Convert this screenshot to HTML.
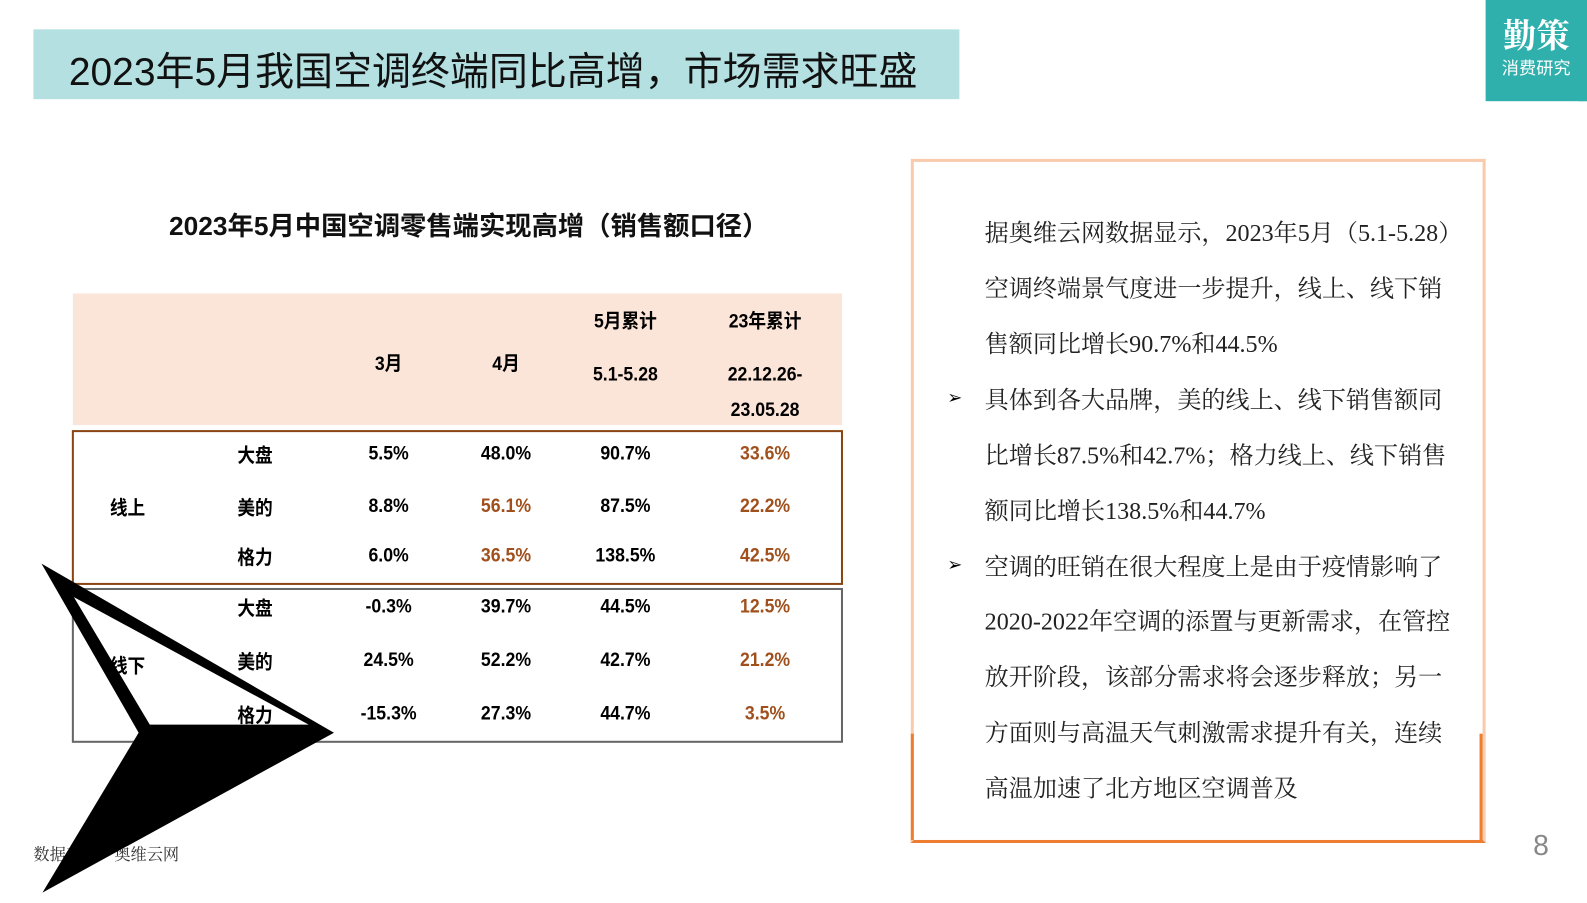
<!DOCTYPE html>
<html><head><meta charset="utf-8"><style>
body{margin:0;width:1587px;height:892px;position:relative;background:#fff;overflow:hidden;font-family:"Liberation Sans","Noto Sans CJK SC",sans-serif;}
#wrap{position:absolute;left:0;top:0;width:1587px;height:892px;transform:scale(1.012);transform-origin:0 0;}
.a{position:absolute;}
.c{position:absolute;transform:translate(-50%,-50%) scaleX(0.92);white-space:nowrap;font-size:19px;font-weight:bold;color:#000;}
.o{color:#a0501c;}
.t{position:absolute;left:973px;font-family:"Liberation Serif","Noto Serif CJK SC",serif;font-size:23.8px;color:#222;white-space:nowrap;transform:translateY(-50%);}
.b{position:absolute;left:936px;font-size:18px;transform:translateY(-50%);}
</style></head><body><div id="wrap">
<div class="a" style="left:33px;top:29px;width:915px;height:69px;background:#b4e0e2;"></div>
<div class="a" style="left:68px;top:40px;font-size:38.5px;color:#111;white-space:nowrap;">2023年5月我国空调终端同比高增，市场需求旺盛</div>
<div class="a" style="left:1468px;top:0;width:100px;height:100px;background:#2fb0ad;color:#fff;text-align:center;">
<div style="font-size:33px;font-weight:bold;margin-top:14px;font-family:'Noto Serif CJK SC',serif;line-height:40px;">勤策</div>
<div style="font-size:17px;line-height:22px;margin-top:3px;">消费研究</div></div>
<div class="a" style="left:1560px;top:0;width:40px;height:100px;background:#2fb0ad;"></div>
<div class="a" style="left:167px;top:203px;font-size:26px;font-weight:bold;color:#111;white-space:nowrap;">2023年5月中国空调零售端实现高增（销售额口径）</div>
<div class="a" style="left:72px;top:290px;width:760px;height:130px;background:#fbe4d8;"></div>
<div class="a" style="left:71px;top:425px;width:758px;height:149px;border:2px solid #8b4513;"></div>
<div class="a" style="left:71px;top:581px;width:758px;height:149px;border:2px solid #666;"></div>
<div id="tbl"></div>
<div class="a" style="left:33px;top:832px;font-size:16px;color:#333;font-family:'Noto Serif CJK SC',serif;">数据来源：奥维云网</div>
<svg class="a" style="left:0;top:0" width="1587" height="892"><path fill-rule="evenodd" fill="#000" d="M41,557 L330,724 L42,882 L137,724 Z M73,590 L148,716 L305,716 Z"/></svg>
<div class="a" style="left:900px;top:157px;width:562px;height:670px;border:3px solid #f8cbad;border-bottom-color:#ed7d31;"></div>
<div class="a" style="left:900px;top:725px;width:3px;height:105px;background:#ed7d31"></div>
<div class="a" style="left:1462px;top:725px;width:3px;height:105px;background:#ed7d31"></div>
<div class="t" style="top:228px">据奥维云网数据显示，2023年5月（5.1-5.28）</div>
<div class="t" style="top:283px">空调终端景气度进一步提升，线上、线下销</div>
<div class="t" style="top:338px">售额同比增长90.7%和44.5%</div>
<div class="b" style="top:393px">➢</div>
<div class="t" style="top:393px">具体到各大品牌，美的线上、线下销售额同</div>
<div class="t" style="top:448px">比增长87.5%和42.7%；格力线上、线下销售</div>
<div class="t" style="top:503px">额同比增长138.5%和44.7%</div>
<div class="b" style="top:558px">➢</div>
<div class="t" style="top:558px">空调的旺销在很大程度上是由于疫情影响了</div>
<div class="t" style="top:612px">2020-2022年空调的添置与更新需求，在管控</div>
<div class="t" style="top:667px">放开阶段，该部分需求将会逐步释放；另一</div>
<div class="t" style="top:722px">方面则与高温天气刺激需求提升有关，连续</div>
<div class="t" style="top:777px">高温加速了北方地区空调普及</div>
<div class="a" style="left:1515px;top:820px;font-size:28px;color:#888;">8</div>
</div>
<script>
const cols=[384,500,618,756];
const rowY=[449,501,550,600,653,706];
const brands=['大盘','美的','格力','大盘','美的','格力'];
const vals=[['5.5%','48.0%','90.7%','33.6%'],['8.8%','56.1%','87.5%','22.2%'],['6.0%','36.5%','138.5%','42.5%'],['-0.3%','39.7%','44.5%','12.5%'],['24.5%','52.2%','42.7%','21.2%'],['-15.3%','27.3%','44.7%','3.5%']];
const orange=[[0,0,0,1],[0,1,0,1],[0,1,0,1],[0,0,0,1],[0,0,0,1],[0,0,0,1]];
const host=document.getElementById('tbl');
function add(x,y,txt,cls,name){const d=document.createElement('div');d.className='c'+(cls?' '+cls:'');d.style.left=x+'px';d.style.top=y+'px';d.textContent=txt;


host.appendChild(d);}
add(384,358,'3月','','header-mar');add(500,358,'4月','','header-apr');
add(618,316,'5月累计','','header-may');add(618,371,'5.1-5.28','','header-may-range');
add(756,316,'23年累计','','header-ytd');add(756,371,'22.12.26-','','header-ytd-range');add(756,406,'23.05.28','','header-ytd-range2');
add(126,501,'线上','','group-online');add(126,657,'线下','','group-offline');
rowY.forEach((y,i)=>{add(252,y,brands[i],'','brand-label');vals[i].forEach((v,j)=>add(cols[j],y,v,orange[i][j]?'o':'','cell-value'));});
</script>
</body></html>
